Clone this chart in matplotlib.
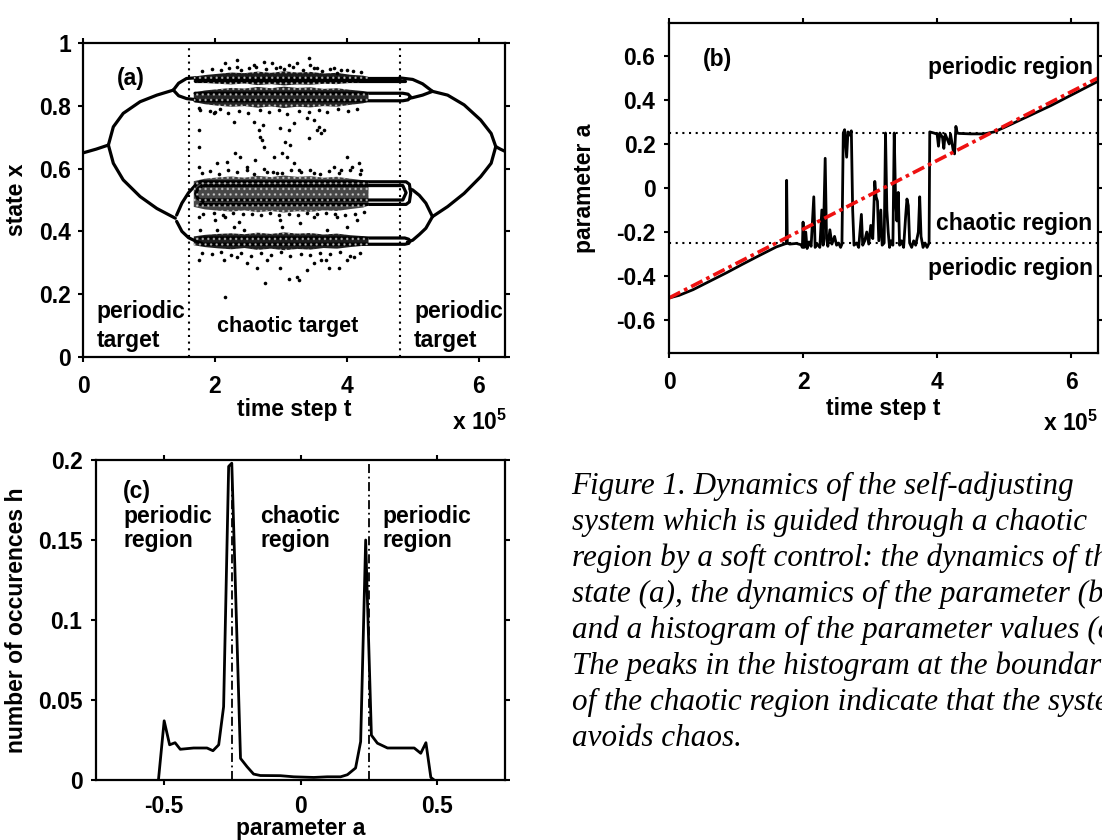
import matplotlib
matplotlib.use("Agg")
import matplotlib.pyplot as plt
import numpy as np

plt.rcParams['font.family'] = ['Liberation Sans', 'DejaVu Sans']
plt.rcParams['font.weight'] = 'bold'
plt.rcParams['axes.unicode_minus'] = False
plt.rcParams['mathtext.fontset'] = 'custom'
plt.rcParams['mathtext.rm'] = 'Liberation Sans:bold'
plt.rcParams['mathtext.bf'] = 'Liberation Sans:bold'
plt.rcParams['mathtext.default'] = 'rm'
plt.rcParams['hatch.linewidth'] = 1.0

# ---------------- Panel (a): state x vs time step t (x 1e5) ----------------
p1_left_t = [0.0, 0.2, 0.385]
p1_left_x = [0.650, 0.662, 0.675]
p2_left_up_t = [0.385, 0.46, 0.61, 0.866, 1.12, 1.37]
p2_left_up_x = [0.675, 0.733, 0.776, 0.813, 0.834, 0.850]
p2_left_lo_t = [0.385, 0.46, 0.61, 0.866, 1.12, 1.40]
p2_left_lo_x = [0.675, 0.617, 0.564, 0.511, 0.473, 0.442]
p1_right_t = [6.26, 6.33, 6.40]
p1_right_x = [0.670, 0.662, 0.655]
p2_right_up_t = [5.30, 5.53, 5.78, 6.03, 6.19, 6.26]
p2_right_up_x = [0.846, 0.834, 0.803, 0.755, 0.712, 0.670]
p2_right_lo_t = [5.30, 5.53, 5.78, 6.03, 6.19, 6.26]
p2_right_lo_x = [0.447, 0.479, 0.521, 0.574, 0.617, 0.670]

# upper pill
up_split_hi_t = [1.37, 1.45, 1.57, 1.70]
up_split_hi_x = [0.850, 0.872, 0.887, 0.889]
up_split_lo_t = [1.37, 1.45, 1.57, 1.70]
up_split_lo_x = [0.850, 0.832, 0.823, 0.820]
top_line_t = [1.70, 4.80]
top_line_x = [0.889, 0.889]
top_line2_t = [1.70, 4.88]
top_line2_x = [0.880, 0.880]
u2_loop_t = [1.70, 4.85, 4.93, 4.97, 4.93, 4.85, 1.70]
u2_loop_x = [0.840, 0.840, 0.837, 0.828, 0.819, 0.816, 0.816]
up_arc_hi_t = [4.80, 5.00, 5.15, 5.30]
up_arc_hi_x = [0.889, 0.884, 0.870, 0.846]
up_arc_lo_t = [5.30, 5.15, 5.00, 4.95]
up_arc_lo_x = [0.846, 0.834, 0.826, 0.824]

# lower pills
lo_split_hi_t = [1.42, 1.50, 1.60, 1.73, 1.80]
lo_split_hi_x = [0.452, 0.490, 0.523, 0.553, 0.558]
lo_split_lo_t = [1.42, 1.50, 1.60, 1.73, 1.80]
lo_split_lo_x = [0.432, 0.400, 0.380, 0.367, 0.362]
mid_paren_t = [1.82, 1.74, 1.71, 1.74, 1.82]
mid_paren_x = [0.548, 0.535, 0.520, 0.505, 0.495]
mid_loop_t = [1.78, 4.90, 4.95, 4.97, 4.95, 4.90, 1.78]
mid_loop_x = [0.558, 0.558, 0.550, 0.522, 0.494, 0.486, 0.486]
mid_inner_t = [1.80, 4.85, 4.90, 4.85, 1.80]
mid_inner_x = [0.546, 0.546, 0.523, 0.500, 0.500]
bot_loop_t = [1.78, 4.88, 4.94, 4.96, 4.94, 4.88, 1.78]
bot_loop_x = [0.379, 0.379, 0.375, 0.369, 0.362, 0.359, 0.359]
lo_arc_hi_t = [5.30, 5.20, 5.10, 5.00, 4.96]
lo_arc_hi_x = [0.447, 0.490, 0.515, 0.532, 0.535]
lo_arc_lo_t = [5.30, 5.20, 5.10, 5.00, 4.92]
lo_arc_lo_x = [0.447, 0.410, 0.390, 0.372, 0.366]

# dense chaotic bands (edges)
band_t = [1.68, 1.85, 2.05, 2.25, 2.45, 2.65, 2.85, 3.05, 3.25, 3.45, 3.65, 3.85, 4.05, 4.25, 4.33]
bandA_top = [0.893, 0.898, 0.902, 0.906, 0.904, 0.909, 0.905, 0.910, 0.906, 0.908, 0.903, 0.905, 0.899, 0.896, 0.892]
bandA_bot = [0.876, 0.873, 0.870, 0.868, 0.871, 0.866, 0.869, 0.865, 0.868, 0.867, 0.870, 0.869, 0.873, 0.876, 0.879]
bandB_top = [0.842, 0.849, 0.853, 0.857, 0.855, 0.860, 0.856, 0.861, 0.857, 0.859, 0.854, 0.856, 0.851, 0.847, 0.843]
bandB_bot = [0.812, 0.805, 0.800, 0.797, 0.799, 0.794, 0.798, 0.793, 0.797, 0.795, 0.799, 0.797, 0.803, 0.808, 0.813]
bandC_top = [0.560, 0.568, 0.572, 0.575, 0.571, 0.577, 0.573, 0.578, 0.574, 0.576, 0.571, 0.574, 0.568, 0.563, 0.560]
bandC_bot = [0.478, 0.470, 0.466, 0.463, 0.467, 0.461, 0.465, 0.460, 0.464, 0.462, 0.467, 0.465, 0.471, 0.476, 0.482]
bandD_top = [0.384, 0.389, 0.392, 0.394, 0.391, 0.396, 0.392, 0.397, 0.393, 0.395, 0.390, 0.393, 0.388, 0.385, 0.382]
bandD_bot = [0.356, 0.350, 0.346, 0.343, 0.347, 0.341, 0.345, 0.340, 0.344, 0.342, 0.347, 0.345, 0.350, 0.354, 0.357]

# sparse chaotic points
dots_t = [2.158, 2.335, 2.335, 2.589, 2.741, 2.867, 2.994, 3.121, 3.247, 3.425, 3.450, 3.551, 3.804, 4.007, 3.855,
          1.753, 1.753, 1.753, 1.753, 2.006, 2.031, 2.285, 2.310, 2.386, 2.589, 2.614, 2.665, 2.690, 2.715, 2.730,
          2.741, 2.893, 2.994, 3.019, 3.070, 3.095, 3.121, 3.146, 3.197, 3.197, 3.399, 3.425, 3.501, 3.551, 3.576,
          3.602, 3.652, 4.007, 4.083, 4.184, 4.210, 1.981, 2.183, 2.487, 2.791, 2.943, 3.272, 3.501, 3.804, 3.906,
          1.753, 1.778, 2.006, 2.031, 2.158, 2.285, 2.361, 2.437, 2.994, 3.019, 3.298, 3.501, 3.703, 3.855, 4.007, 4.159,
          1.753, 2.133, 2.335, 2.639, 2.766, 2.994, 3.121, 3.247, 3.272, 3.399, 3.501, 3.602, 3.678, 3.728, 3.880,
          4.007, 4.108, 2.158, 2.487, 2.791]
dots_x = [0.935, 0.946, 0.925, 0.930, 0.941, 0.935, 0.925, 0.930, 0.935, 0.951, 0.930, 0.919, 0.919, 0.914, 0.903,
          0.792, 0.723, 0.670, 0.606, 0.781, 0.617, 0.749, 0.649, 0.638, 0.749, 0.627, 0.723, 0.702, 0.691, 0.739,
          0.670, 0.638, 0.728, 0.649, 0.686, 0.638, 0.723, 0.675, 0.744, 0.617, 0.760, 0.696, 0.755, 0.723, 0.734,
          0.712, 0.723, 0.638, 0.606, 0.617, 0.596, 0.776, 0.622, 0.606, 0.590, 0.585, 0.596, 0.585, 0.606, 0.596,
          0.447, 0.404, 0.436, 0.404, 0.447, 0.415, 0.431, 0.404, 0.436, 0.415, 0.426, 0.447, 0.404, 0.447, 0.415, 0.436,
          0.309, 0.309, 0.320, 0.282, 0.235, 0.282, 0.250, 0.256, 0.245, 0.277, 0.298, 0.309, 0.309, 0.282, 0.282,
          0.309, 0.320, 0.192, 0.298, 0.309]
edge_dots_t = [1.80, 1.95, 2.10, 2.22, 2.40, 2.52, 2.63, 2.78, 2.93, 3.05, 3.18, 3.33, 3.50, 3.62, 3.75, 3.92, 4.10, 4.22,
               1.78, 1.92, 2.08, 2.20, 2.36, 2.50, 2.68, 2.82, 2.97, 3.10, 3.28, 3.42, 3.58, 3.70, 3.86, 4.02, 4.16,
               1.80, 1.93, 2.07, 2.20, 2.34, 2.48, 2.60, 2.75, 2.88, 3.02, 3.15, 3.30, 3.45, 3.60, 3.73, 3.88, 4.05, 4.20,
               1.82, 1.98, 2.12, 2.27, 2.42, 2.56, 2.70, 2.84, 2.98, 3.12, 3.26, 3.40, 3.55, 3.68, 3.82, 3.98, 4.12, 4.26,
               1.80, 1.95, 2.10, 2.24, 2.39, 2.55, 2.70, 2.85, 3.00, 3.14, 3.30, 3.44, 3.60, 3.74, 3.90, 4.05, 4.20]
edge_dots_x = [0.912, 0.918, 0.915, 0.921, 0.913, 0.919, 0.924, 0.916, 0.921, 0.917, 0.922, 0.915, 0.920, 0.912, 0.918,
               0.913, 0.910, 0.908,
               0.788, 0.782, 0.790, 0.778, 0.785, 0.776, 0.787, 0.780, 0.786, 0.775, 0.784, 0.779, 0.787, 0.781, 0.789,
               0.783, 0.790,
               0.585, 0.592, 0.583, 0.596, 0.588, 0.594, 0.584, 0.598, 0.590, 0.586, 0.597, 0.589, 0.595, 0.583, 0.592,
               0.586, 0.594, 0.584,
               0.455, 0.458, 0.452, 0.460, 0.454, 0.457, 0.451, 0.459, 0.453, 0.456, 0.452, 0.458, 0.454, 0.460, 0.455,
               0.451, 0.457, 0.462,
               0.332, 0.327, 0.334, 0.325, 0.331, 0.322, 0.330, 0.326, 0.333, 0.321, 0.329, 0.324, 0.331, 0.327, 0.334,
               0.323, 0.330]

target_bounds_t = [1.6, 4.8]

# ---------------- Panel (b): parameter a vs time ----------------
red_t = [0.0, 6.4]
red_a = [-0.5, 0.5]
black_t = [0.0, 0.15, 0.36, 0.60, 0.86, 1.10, 1.36, 1.60, 1.75, 1.755, 1.765, 1.80, 1.90, 1.97, 1.99, 2.00, 2.015,
           2.04, 2.06, 2.09, 2.12, 2.16, 2.18, 2.21, 2.25, 2.28, 2.30, 2.33, 2.35, 2.37, 2.40, 2.43, 2.47, 2.50,
           2.53, 2.56, 2.58, 2.60, 2.62, 2.65, 2.67, 2.70, 2.72, 2.74, 2.76, 2.80, 2.83, 2.87, 2.89, 2.92, 2.95,
           2.98, 3.01, 3.04, 3.07, 3.09, 3.11, 3.13, 3.16, 3.18, 3.21, 3.23, 3.25, 3.27, 3.29, 3.31, 3.34, 3.36,
           3.38, 3.40, 3.42, 3.44, 3.47, 3.50, 3.53, 3.55, 3.57, 3.59, 3.62, 3.65, 3.68, 3.72, 3.74, 3.76, 3.79,
           3.82, 3.85, 3.88, 3.89, 3.95, 4.00, 4.02, 4.04, 4.08, 4.10, 4.12, 4.18, 4.20, 4.24, 4.26, 4.28, 4.30,
           4.33, 4.50, 4.70, 4.85, 5.00, 5.33, 5.70, 6.05, 6.40]
black_a = [-0.500, -0.488, -0.462, -0.425, -0.385, -0.346, -0.305, -0.268, -0.252, 0.035, -0.250, -0.255, -0.252,
           -0.258, -0.270, -0.155, -0.270, -0.200, -0.275, -0.245, -0.265, -0.040, -0.270, -0.255, -0.270, -0.100,
           -0.260, 0.135, -0.230, -0.265, -0.190, -0.255, -0.220, -0.260, -0.250, -0.270, -0.255, 0.250, 0.265,
           0.140, 0.255, 0.240, 0.260, -0.100, -0.260, -0.250, -0.270, -0.120, -0.260, -0.240, -0.200, -0.255,
           -0.170, -0.230, 0.030, -0.040, -0.060, -0.240, -0.100, -0.260, -0.250, 0.250, -0.100, -0.200, -0.270,
           -0.240, -0.260, 0.250, -0.050, -0.150, -0.020, -0.260, -0.240, -0.270, -0.130, -0.050, -0.080, -0.250,
           -0.270, -0.240, -0.260, -0.200, -0.040, -0.220, -0.270, -0.250, -0.270, -0.250, 0.255, 0.250, 0.245,
           0.190, 0.250, 0.230, 0.180, 0.245, 0.200, 0.245, 0.170, 0.155, 0.280, 0.250, 0.248, 0.246, 0.246,
           0.255, 0.275, 0.322, 0.375, 0.430, 0.485]
region_bounds_a = [-0.25, 0.25]

# ---------------- Panel (c): histogram ----------------
hist_a = [-0.521, -0.500, -0.480, -0.460, -0.441, -0.392, -0.343, -0.321, -0.300, -0.282, -0.2635, -0.252,
          -0.220, -0.196, -0.172, -0.147, -0.074, -0.025, 0.049, 0.098, 0.147, 0.172, 0.202, 0.2206, 0.239,
          0.260, 0.282, 0.319, 0.368, 0.417, 0.441, 0.460, 0.478, 0.490]
hist_h = [0.0, 0.037, 0.022, 0.0233, 0.0192, 0.020, 0.020, 0.0183, 0.022, 0.0458, 0.196, 0.198,
          0.0135, 0.0083, 0.0037, 0.0028, 0.0027, 0.002, 0.0016, 0.002, 0.002, 0.0033, 0.0075, 0.024, 0.150,
          0.028, 0.023, 0.020, 0.020, 0.020, 0.0167, 0.0233, 0.0016, 0.0]

caption_lines = ["Figure 1. Dynamics of the self-adjusting",
                 "system which is guided through a chaotic",
                 "region by a soft control: the dynamics of the",
                 "state (a), the dynamics of the parameter (b)",
                 "and a histogram of the parameter values (c).",
                 "The peaks in the histogram at the boundaries",
                 "of the chaotic region indicate that the system",
                 "avoids chaos."]

FS = 16.5
W, H = 1102, 840
fig = plt.figure(figsize=(W / 100, H / 100), dpi=100)


def px_axes(l, r, t, b):
    return fig.add_axes([l / W, 1 - b / H, (r - l) / W, (b - t) / H])


def style(ax, xpad, ypad):
    for s in ax.spines.values():
        s.set_linewidth(1.6)
    ax.tick_params(direction='out', length=3.8, width=1.5, top=True, right=True,
                   labelsize=FS)
    ax.tick_params(axis='x', pad=xpad)
    ax.tick_params(axis='y', pad=ypad)
    for lab in ax.get_xticklabels() + ax.get_yticklabels():
        lab.set_fontweight('bold')


axA = px_axes(83, 505, 43, 357)
axB = px_axes(669, 1098, 23, 353)
axC = px_axes(96, 505, 460, 780)

# ---- panel a ----
LW = 2.3
for tt, xx in [(p1_left_t, p1_left_x), (p2_left_up_t, p2_left_up_x), (p2_left_lo_t, p2_left_lo_x),
               (p1_right_t, p1_right_x), (p2_right_up_t, p2_right_up_x), (p2_right_lo_t, p2_right_lo_x),
               (up_split_hi_t, up_split_hi_x), (up_split_lo_t, up_split_lo_x),
               (top_line_t, top_line_x), (top_line2_t, top_line2_x), (u2_loop_t, u2_loop_x),
               (up_arc_hi_t, up_arc_hi_x), (up_arc_lo_t, up_arc_lo_x),
               (lo_split_hi_t, lo_split_hi_x), (lo_split_lo_t, lo_split_lo_x),
               (mid_paren_t, mid_paren_x), (mid_loop_t, mid_loop_x), (mid_inner_t, mid_inner_x),
               (bot_loop_t, bot_loop_x), (lo_arc_hi_t, lo_arc_hi_x), (lo_arc_lo_t, lo_arc_lo_x)]:
    axA.plot(tt, xx, color='black', lw=LW, solid_capstyle='round', solid_joinstyle='round', zorder=2)

for bot, top, fa in [(bandA_bot, bandA_top, 0.9), (bandB_bot, bandB_top, 0.85),
                     (bandC_bot, bandC_top, 0.72), (bandD_bot, bandD_top, 0.88)]:
    axA.fill_between(band_t, bot, top, facecolor=(0, 0, 0, fa), edgecolor=(1, 1, 1, 0.55), hatch='...',
                     lw=0, zorder=3)
axA.plot(dots_t, dots_x, 'o', color='black', ms=2.6, mew=0, zorder=4)
axA.plot(edge_dots_t, edge_dots_x, 'o', color='black', ms=2.6, mew=0, zorder=4)

for tb in target_bounds_t:
    axA.axvline(tb, color='black', lw=1.5, ls=(0, (1, 2.2)), zorder=1)

axA.set_xlim(0, 6.4)
axA.set_ylim(0, 1)
axA.set_xticks([0, 2, 4, 6])
axA.set_xticklabels(['0', '2', '4', '6'])
axA.set_yticks([0, 0.2, 0.4, 0.6, 0.8, 1.0])
axA.set_yticklabels(['0', '0.2', '0.4', '0.6', '0.8', '1'])
style(axA, 9, 5)
axA.set_xlabel('time step t', fontsize=FS, fontweight='bold')
axA.xaxis.set_label_coords(0.5, -0.13)
axA.xaxis.label.set_va('top')
axA.set_ylabel('state x', fontsize=FS, fontweight='bold')
axA.yaxis.set_label_coords(-0.13, 0.5)
axA.text(0.512, 0.866, '(a)', fontsize=FS, fontweight='bold')
axA.text(0.208, 0.124, 'periodic', fontsize=FS, fontweight='bold')
axA.text(0.208, 0.032, 'target', fontsize=FS, fontweight='bold')
axA.text(2.03, 0.080, 'chaotic target', fontsize=15.5, fontweight='bold')
axA.text(5.02, 0.124, 'periodic', fontsize=FS, fontweight='bold')
axA.text(5.02, 0.032, 'target', fontsize=FS, fontweight='bold')
axA.text(0.874, -0.232, 'x 10$^{5}$', transform=axA.transAxes, fontsize=FS, fontweight='bold')

# ---- panel b ----
for ab in region_bounds_a:
    axB.axhline(ab, color='black', lw=1.5, ls=(0, (1, 2.2)))
axB.plot(black_t, black_a, color='black', lw=2.0, solid_joinstyle='round')
axB.plot(red_t, red_a, color='#ee1111', lw=2.6, ls=(0, (3.5, 1.2, 1.0, 1.2)))
axB.set_xlim(0, 6.4)
axB.set_ylim(-0.75, 0.75)
axB.set_xticks([0, 2, 4, 6])
axB.set_xticklabels(['0', '2', '4', '6'])
axB.set_yticks([-0.6, -0.4, -0.2, 0, 0.2, 0.4, 0.6])
axB.set_yticklabels(['-0.6', '-0.4', '-0.2', '0', '0.2', '0.4', '0.6'])
style(axB, 9, 6)
axB.set_xlabel('time step t', fontsize=FS, fontweight='bold')
axB.xaxis.set_label_coords(0.5, -0.134)
axB.xaxis.label.set_va('top')
axB.set_ylabel('parameter a', fontsize=FS, fontweight='bold')
axB.yaxis.set_label_coords(-0.17, 0.5)
axB.text(0.511, 0.554, '(b)', fontsize=FS, fontweight='bold')
axB.text(6.32, 0.516, 'periodic region', ha='right', fontsize=FS, fontweight='bold')
axB.text(6.31, -0.189, 'chaotic region', ha='right', fontsize=FS, fontweight='bold')
axB.text(6.32, -0.394, 'periodic region', ha='right', fontsize=FS, fontweight='bold')
axB.text(0.8725, -0.236, 'x 10$^{5}$', transform=axB.transAxes, fontsize=FS, fontweight='bold')

# ---- panel c ----
for ab in region_bounds_a:
    axC.axvline(ab, color='black', lw=1.3, ls=(0, (5, 2, 1, 2)))
axC.plot(hist_a, hist_h, color='black', lw=2.0, solid_joinstyle='round')
axC.set_xlim(-0.75, 0.75)
axC.set_ylim(0, 0.2)
axC.set_xticks([-0.5, 0, 0.5])
axC.set_xticklabels(['-0.5', '0', '0.5'])
axC.set_yticks([0, 0.05, 0.1, 0.15, 0.2])
axC.set_yticklabels(['0', '0.05', '0.1', '0.15', '0.2'])
style(axC, 7, 6)
axC.set_xlabel('parameter a', fontsize=FS, fontweight='bold')
axC.xaxis.set_label_coords(0.5, -0.116)
axC.xaxis.label.set_va('top')
axC.set_ylabel('number of occurences h', fontsize=FS, fontweight='bold')
axC.yaxis.set_label_coords(-0.166, 0.5)
axC.text(-0.65, 0.1765, '(c)', fontsize=FS, fontweight='bold')
axC.text(-0.65, 0.1604, 'periodic', fontsize=FS, fontweight='bold')
axC.text(-0.65, 0.1458, 'region', fontsize=FS, fontweight='bold')
axC.text(-0.147, 0.1604, 'chaotic', fontsize=FS, fontweight='bold')
axC.text(-0.147, 0.1458, 'region', fontsize=FS, fontweight='bold')
axC.text(0.300, 0.1604, 'periodic', fontsize=FS, fontweight='bold')
axC.text(0.300, 0.1458, 'region', fontsize=FS, fontweight='bold')

# ---- caption ----
for i, line in enumerate(caption_lines):
    fig.text(571.5 / W, 1 - (494 + 36 * i) / H, line, family=['Liberation Serif', 'DejaVu Serif'],
             style='italic', fontweight='normal', fontsize=22.4, va='baseline', ha='left')

fig.savefig('out.png', dpi=100)
